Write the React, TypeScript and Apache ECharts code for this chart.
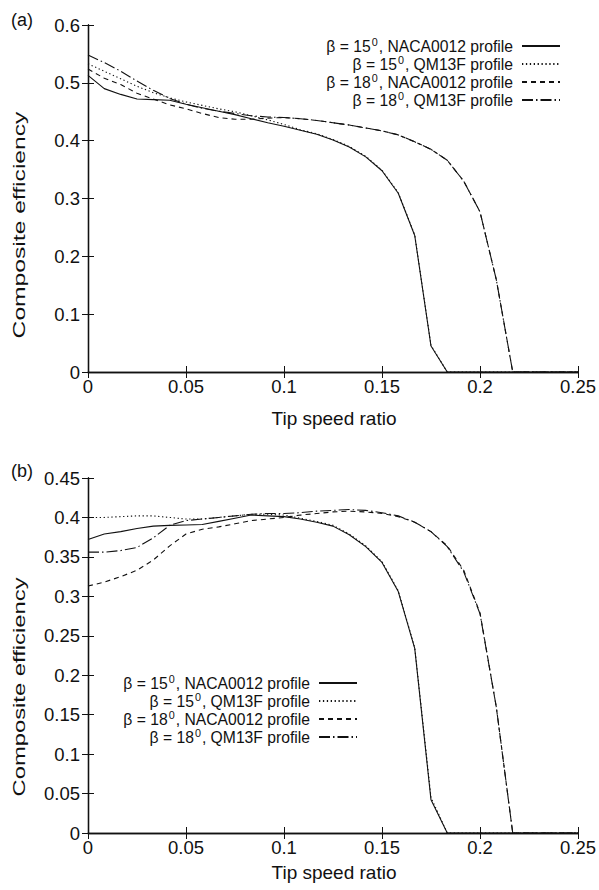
import React, { useEffect, useRef } from "react";
import * as echarts from "echarts";

// Tip speed ratio sample points (shared by all curves)
const tsr = [0, 0.0083, 0.0167, 0.025, 0.0333, 0.0417, 0.05, 0.0583, 0.0667, 0.075, 0.0833, 0.0917, 0.1, 0.1083, 0.1167, 0.125, 0.1333, 0.1417, 0.15, 0.1583, 0.1667, 0.175, 0.1833, 0.1917, 0.2, 0.2083, 0.2167, 0.225, 0.2333, 0.2417, 0.25];

// Panel (a)
const a_naca15 = [0.513, 0.49, 0.48, 0.472, 0.471, 0.47, 0.463, 0.457, 0.451, 0.445, 0.438, 0.431, 0.425, 0.418, 0.411, 0.401, 0.389, 0.372, 0.348, 0.309, 0.236, 0.045, 0, 0, 0, 0, 0, 0, 0, 0, 0];
const a_qm15 = [0.533, 0.52, 0.507, 0.494, 0.483, 0.474, 0.467, 0.461, 0.455, 0.45, 0.443, 0.436, 0.428, 0.419, 0.412, 0.402, 0.39, 0.373, 0.349, 0.31, 0.237, 0.046, 0, 0, 0, 0, 0, 0, 0, 0, 0];
const a_naca18 = [0.524, 0.508, 0.497, 0.482, 0.472, 0.462, 0.455, 0.447, 0.44, 0.437, 0.437, 0.439, 0.44, 0.438, 0.435, 0.431, 0.427, 0.422, 0.417, 0.41, 0.398, 0.385, 0.366, 0.33, 0.277, 0.16, 0, 0, 0, 0, 0];
const a_qm18 = [0.548, 0.535, 0.52, 0.503, 0.487, 0.473, 0.463, 0.456, 0.451, 0.447, 0.443, 0.441, 0.44, 0.438, 0.435, 0.431, 0.427, 0.422, 0.417, 0.41, 0.398, 0.385, 0.366, 0.33, 0.277, 0.16, 0, 0, 0, 0, 0];

// Panel (b)
const b_naca15 = [0.372, 0.379, 0.382, 0.386, 0.389, 0.39, 0.3905, 0.391, 0.395, 0.399, 0.403, 0.402, 0.401, 0.398, 0.394, 0.389, 0.378, 0.363, 0.343, 0.306, 0.234, 0.042, 0, 0, 0, 0, 0, 0, 0, 0, 0];
const b_qm15 = [0.4, 0.4, 0.401, 0.402, 0.402, 0.4, 0.398, 0.398, 0.4, 0.402, 0.404, 0.404, 0.403, 0.399, 0.395, 0.39, 0.379, 0.364, 0.344, 0.307, 0.235, 0.045, 0, 0, 0, 0, 0, 0, 0, 0, 0];
const b_naca18 = [0.313, 0.318, 0.325, 0.333, 0.346, 0.364, 0.379, 0.385, 0.388, 0.392, 0.396, 0.398, 0.4, 0.403, 0.405, 0.407, 0.408, 0.407, 0.405, 0.401, 0.394, 0.382, 0.364, 0.333, 0.279, 0.16, 0, 0, 0, 0, 0];
const b_qm18 = [0.356, 0.356, 0.358, 0.362, 0.374, 0.39, 0.396, 0.398, 0.4, 0.402, 0.404, 0.405, 0.405, 0.406, 0.408, 0.409, 0.41, 0.409, 0.406, 0.402, 0.394, 0.382, 0.363, 0.331, 0.278, 0.16, 0, 0, 0, 0, 0];

const angles = ["15", "15", "18", "18"];
const profiles = ["NACA0012", "QM13F", "NACA0012", "QM13F"];
const seriesNames = angles.map((a, i) => `β = ${a}⁰, ${profiles[i]} profile`);
const dashes: (number[] | "solid")[] = ["solid", [1.3, 2.6], [5, 4], [11, 3, 1.5, 3]];

const FONT = "'Liberation Sans', Arial, Helvetica, sans-serif";
const INK = "#111";

export default function App() {
  const ref = useRef<HTMLDivElement>(null);
  useEffect(() => {
    if (!ref.current) return;
    const chart = echarts.init(ref.current, undefined, { renderer: "svg" });

    const axisLine = { show: true, lineStyle: { color: INK, width: 1.3 } };
    const axisTick = { show: true, inside: true, length: 6, lineStyle: { color: INK, width: 1 } };
    const label = { color: INK, fontSize: 18.5, fontFamily: FONT };

    const xAx = (g: number, pos: string, show: boolean) => ({
      type: "value", gridIndex: g, min: 0, max: 0.25, interval: 0.05, position: pos,
      axisLine, axisTick, splitLine: { show: false },
      axisLabel: { ...label, show, margin: 5 },
    });
    const yAx = (g: number, pos: string, show: boolean, max: number, interval: number) => ({
      type: "value", gridIndex: g, min: 0, max, interval, position: pos,
      axisLine, axisTick, splitLine: { show: false },
      axisLabel: { ...label, show, margin: 8 },
    });

    const mk = (vals: number[], i: number, g: number) => ({
      type: "line", name: seriesNames[i], xAxisIndex: g * 2, yAxisIndex: g * 2,
      data: tsr.map((x, k) => [x, vals[k]]), symbol: "none", showSymbol: false,
      lineStyle: { color: INK, width: 1.1, type: dashes[i] }, itemStyle: { color: INK },
      silent: true,
    });

    const rich = {
      t: { fontSize: 15.7, fontFamily: FONT, color: INK, lineHeight: 19 },
      s: { fontSize: 10.8, fontFamily: FONT, color: INK, padding: [0, 1, 9, 1] },
      e: { fontSize: 15.7, fontFamily: FONT, color: INK, lineHeight: 19, padding: [0, 4, 0, 0] },
    };
    const legendFmt = (name: string) => {
      const i = seriesNames.indexOf(name);
      return `{t|β = ${angles[i]}}{s|0}{e|, ${profiles[i]} profile}`;
    };
    const legendBase = {
      orient: "vertical", align: "right", padding: 0, itemWidth: 38, itemHeight: 14, itemGap: 0,
      formatter: legendFmt, textStyle: { rich }, itemStyle: { opacity: 0 },
      data: seriesNames, selectedMode: false,
    };

    const txt = (text: string, x: number, y: number, size: number, extra: any = {}) => ({
      type: "text", x, y, ...extra,
      style: { text, fontSize: size, fontFamily: FONT, fill: INK, align: "center", verticalAlign: "middle" },
    });

    chart.setOption({
      animation: false,
      backgroundColor: "#fff",
      grid: [
        { left: 88, top: 25, width: 492, height: 347 },
        { left: 88, top: 478, width: 492, height: 355 },
      ],
      xAxis: [xAx(0, "bottom", true), xAx(0, "top", false), xAx(1, "bottom", true), xAx(1, "top", false)],
      yAxis: [
        yAx(0, "left", true, 0.6, 0.1), yAx(0, "right", false, 0.6, 0.1),
        yAx(1, "left", true, 0.45, 0.05), yAx(1, "right", false, 0.45, 0.05),
      ],
      legend: [
        { ...legendBase, right: 38, top: 36 },
        { ...legendBase, right: 241, top: 673 },
      ],
      series: [
        mk(a_naca15, 0, 0), mk(a_qm15, 1, 0), mk(a_naca18, 2, 0), mk(a_qm18, 3, 0),
        mk(b_naca15, 0, 1), mk(b_qm15, 1, 1), mk(b_naca18, 2, 1), mk(b_qm18, 3, 1),
      ],
      graphic: [
        txt("(a)", 22, 20, 18),
        txt("(b)", 22, 471, 18),
        txt("Composite efficiency", 19, 225, 17, { rotation: Math.PI / 2, scaleX: 1.45 }),
        txt("Composite efficiency", 19, 687, 17, { rotation: Math.PI / 2, scaleX: 1.4 }),
        txt("Tip speed ratio", 334, 418, 19),
        txt("Tip speed ratio", 334, 872, 19),
      ],
    });
    return () => chart.dispose();
  }, []);
  return <div ref={ref} style={{ position: "absolute", left: 0, top: 0, width: 599, height: 890 }} />;
}
